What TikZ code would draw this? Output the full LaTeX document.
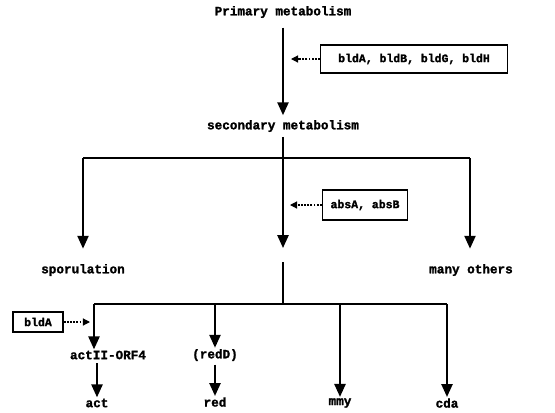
\documentclass[tikz,border=0pt]{standalone}
\usepackage{fontspec}
\newfontfamily\typefont{Liberation Mono}[BoldFeatures={FakeBold=1.6}]
\usetikzlibrary{arrows.meta, positioning}

\begin{document}
\begin{tikzpicture}[
  x=0.03cm, y=-0.03cm,
  lbl/.style={font=\typefont\bfseries\fontsize{10.8}{12}\selectfont, inner sep=1pt},
  genebox/.style={draw, line width=1.3pt, font=\typefont\bfseries\fontsize{9.8}{11}\selectfont, inner sep=2pt},
  darr/.style={-{Triangle[width=9.5pt,length=11pt]}, line width=1.7pt},
  dasharr/.style={-{Triangle[width=6pt,length=6pt]}, line width=1pt, dash pattern=on 1.5pt off 1.2pt},
  brline/.style={line width=1.3pt}
]
  \useasboundingbox (0,0) rectangle (555,412);

  % primary -> secondary
  \node[lbl] (prim) at (283,12) {Primary metabolism};
  \node[lbl] (sec) at (283,126) {secondary metabolism};
  \draw[darr, shorten <=7pt, shorten >=3pt] (prim) -- (sec);

  \node[genebox, minimum width=5.6cm, minimum height=0.84cm] (bld) at (414,59) {bldA, bldB, bldG, bldH};
  \coordinate (bldin) at (291,59);
  \draw[dasharr] (bld) -- (bldin);

  % branching
  \coordinate (brtop) at (283,158);
  \coordinate (brL) at (83,158);
  \coordinate (brR) at (470,158);
  \draw[brline, shorten <=3pt] (sec) -- (brtop);
  \draw[brline] (brL) -- (brR);

  \node[lbl] (spor) at (83,270) {sporulation};
  \node[lbl] (many) at (471,270) {many others};
  \coordinate (midend) at (283,248);
  \draw[darr, shorten >=12pt] (brL) -- (brL |- spor.north);
  \draw[darr] (brtop) -- (midend);
  \draw[darr, shorten >=12pt] (brR) -- (brR |- many.north);

  \node[genebox, minimum width=2.55cm, minimum height=0.9cm] (abs) at (365,205) {absA, absB};
  \coordinate (absin) at (290,205);
  \draw[dasharr] (abs) -- (absin);

  % antibiotics
  \coordinate (antitop) at (283,262);
  \coordinate (antibr) at (283,304);
  \coordinate (actbr) at (94,304);
  \coordinate (redbr) at (215,304);
  \coordinate (mmybr) at (340,304);
  \coordinate (cdabr) at (447,304);
  \draw[brline] (antitop) -- (antibr);
  \draw[brline] (actbr) -- (cdabr);

  \node[lbl] (actorf) at (108,355) {actII-ORF4};
  \node[lbl] (act) at (97,403) {act};
  \node[lbl] (redD) at (215,355) {(redD)};
  \node[lbl] (red) at (215,402) {red};
  \node[lbl] (mmy) at (340,403) {mmy};
  \node[lbl] (cda) at (447,403) {cda};

  \draw[darr] (actbr) -- (actbr |- actorf.north);
  \draw[darr, shorten <=2pt] (act |- actorf.south) -- (act);
  \draw[darr] (redbr) -- (redD);
  \draw[darr, shorten <=2pt] (redD) -- (red);
  \draw[darr] (mmybr) -- (mmy);
  \draw[darr] (cdabr) -- (cda);

  \node[genebox, minimum width=1.5cm, minimum height=0.6cm] (bldA) at (38,322) {bldA};
  \coordinate (bldAin) at (90,322);
  \draw[dasharr] (bldA) -- (bldAin);
\end{tikzpicture}
\end{document}
